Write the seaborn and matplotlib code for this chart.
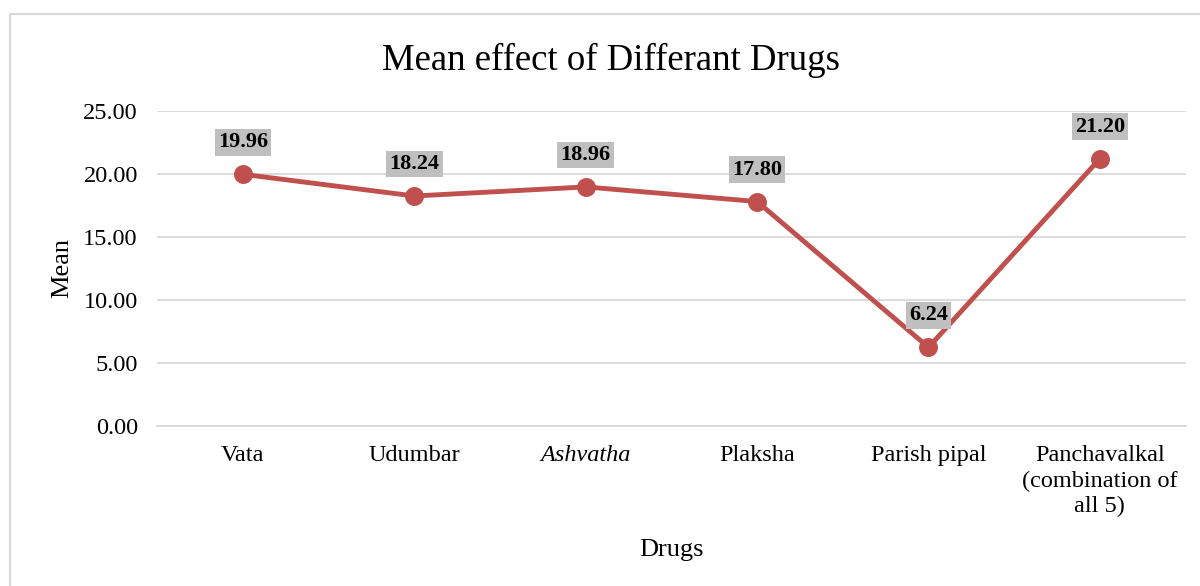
import seaborn as sns
import matplotlib
matplotlib.use("Agg")
import matplotlib.pyplot as plt
import matplotlib.patches as mpatches
import pandas as pd

drugs = ["Vata", "Udumbar", "Ashvatha", "Plaksha", "Parish pipal",
         "Panchavalkal\n(combination of\nall 5)"]
means = [19.96, 18.24, 18.96, 17.80, 6.24, 21.20]
yticks = [0, 5, 10, 15, 20, 25]

sns.set_style("white")
plt.rcParams["font.family"] = ["Liberation Serif", "DejaVu Serif"]
plt.rcParams.update({
    "text.color": "black",
    "axes.labelcolor": "black",
    "xtick.color": "black",
    "ytick.color": "black",
})

df = pd.DataFrame({"drug": drugs, "mean": means})

fig = plt.figure(figsize=(12, 5.86), dpi=100)
ax = fig.add_axes([0.131, 0.273, 0.857, 0.538])

line_color = "#C0504D"
sns.pointplot(
    ax=ax,
    data=df,
    x="drug",
    y="mean",
    color=line_color,
    markers="o",
    markersize=11,
    linewidth=3.5,
)

ax.set_ylim(0, 25)
ax.set_xlim(-0.5, len(drugs) - 0.5)
ax.set_yticks(yticks)
ax.set_yticklabels([f"{v:.2f}" for v in yticks], fontsize=17.5)
ax.tick_params(axis="y", length=0, pad=14)
ax.tick_params(axis="x", length=0, pad=14, labelsize=17.5)
ax.yaxis.grid(True, color="#D9D9D9", linewidth=1.3)
ax.set_axisbelow(True)
for side in ["top", "right", "left"]:
    ax.spines[side].set_visible(False)
ax.spines["bottom"].set_color("#D9D9D9")
ax.spines["bottom"].set_linewidth(1.3)

labels = ax.get_xticklabels()
labels[2].set_style("italic")
for lab in labels:
    lab.set_linespacing(1.25)

for i, v in enumerate(means):
    ax.annotate(
        f"{v:.2f}",
        xy=(i, v),
        xytext=(0, 23),
        textcoords="offset points",
        ha="center",
        va="center",
        fontsize=16,
        fontweight="bold",
        color="black",
        bbox=dict(boxstyle="square,pad=0.15", facecolor="#BFBFBF", edgecolor="none"),
    )

ax.set_ylabel("Mean", fontsize=19, labelpad=7)
ax.set_xlabel("Drugs", fontsize=19, labelpad=16)
fig.text(611 / 1200, 1 - 60 / 586, "Mean effect of Differant Drugs",
         fontsize=26.5, ha="center", va="center")

fig.patches.append(
    mpatches.Rectangle(
        (10 / 1200, -0.05),
        1.2,
        1.05 - 14 / 586,
        transform=fig.transFigure,
        fill=False,
        edgecolor="#D9D9D9",
        linewidth=1.5,
    )
)

fig.savefig("out.png", dpi=100)
